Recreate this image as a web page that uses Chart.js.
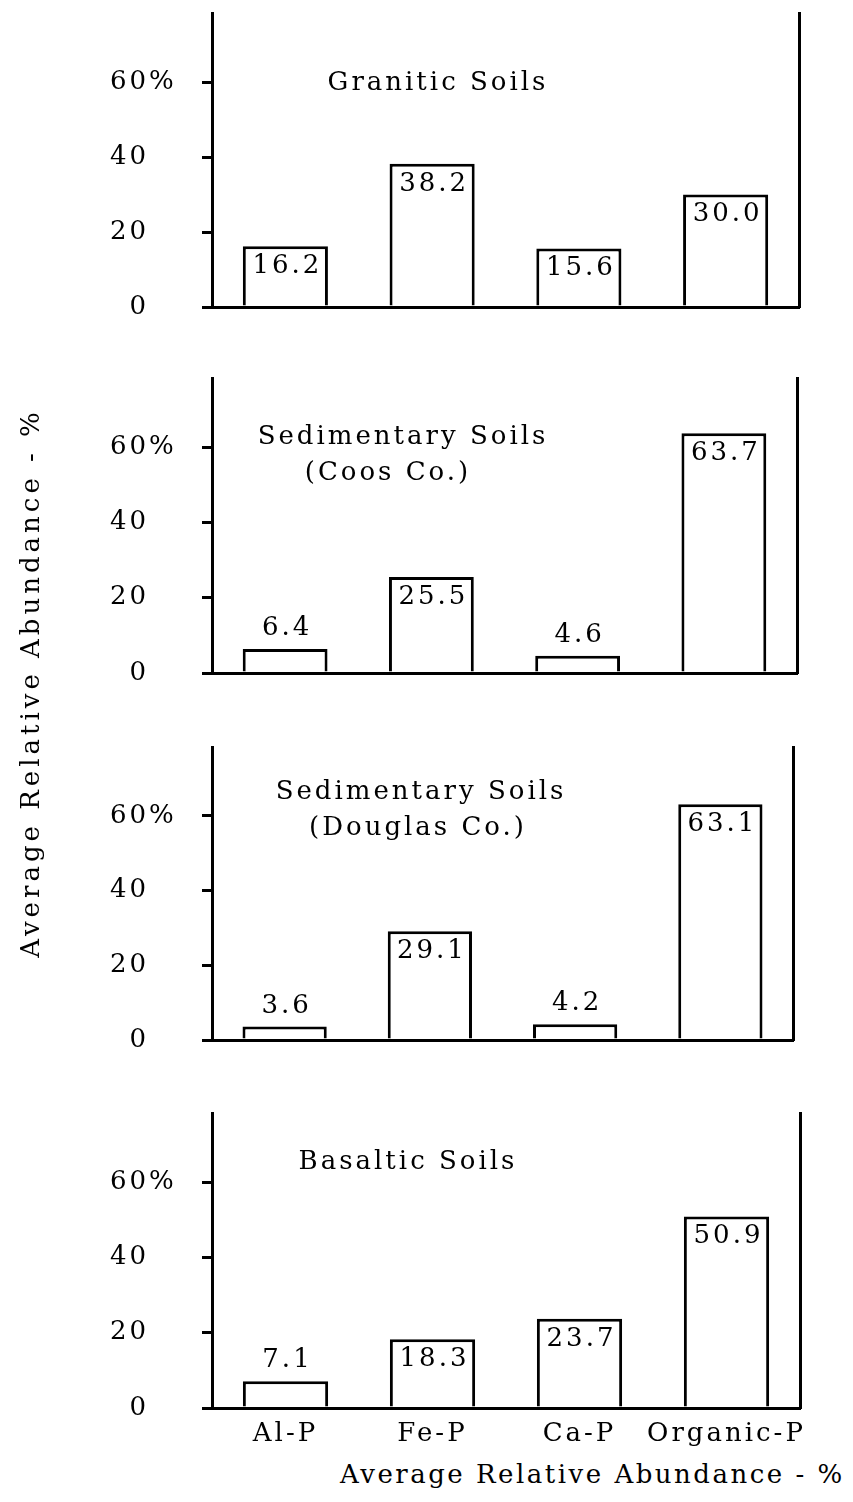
<!DOCTYPE html>
<html>
<head>
<meta charset="utf-8">
<script src="https://cdn.jsdelivr.net/npm/chart.js@4.4.1/dist/chart.umd.min.js"></script>
<style>
  body { margin: 0; background: #fff; }
  #wrap { position: relative; width: 853px; height: 1502px; background: #fff; overflow: hidden; }
  #wrap canvas { position: absolute; left: 0; }
  .axis-title { position: absolute; font-family: "DejaVu Serif", serif; font-size: 26px; color: #000; white-space: nowrap; }
  #ytitle { width: 620px; text-align: center; letter-spacing: 4px; left: -280px; top: 668px; transform: rotate(-90deg); }
  #xtitle { left: 340px; top: 1459px; letter-spacing: 2.5px; }
</style>
</head>
<body>
<div id="wrap">
  <canvas id="c0"></canvas>
  <canvas id="c1"></canvas>
  <canvas id="c2"></canvas>
  <canvas id="c3"></canvas>
  <div id="ytitle" class="axis-title">Average Relative Abundance - %</div>
  <div id="xtitle" class="axis-title">Average Relative Abundance - %</div>
</div>
<script>
// data
const categories = ['Al-P', 'Fe-P', 'Ca-P', 'Organic-P'];
const granitic = [16.2, 38.2, 15.6, 30.0];
const coosCo = [6.4, 25.5, 4.6, 63.7];
const douglasCo = [3.6, 29.1, 4.2, 63.1];
const basaltic = [7.1, 18.3, 23.7, 50.9];
const yTicks = [0, 20, 40, 60];
const panelTitles = [
    ['Granitic Soils'],
    ['Sedimentary Soils', '(Coos Co.)'],
    ['Sedimentary Soils', '(Douglas Co.)'],
    ['Basaltic Soils']
];
const panelData = [granitic, coosCo, douglasCo, basaltic];

// layout (page pixels)
const panelTop = [13, 378, 747, 1113];
const panelZero = [307, 673, 1040, 1408];
const panelRight = [799, 797, 793, 800];
const titleXY = [
    [[438, 83]],
    [[403, 437], [388, 473]],
    [[421, 792], [418, 828]],
    [[408, 1162]]
];
const leftX = 212;
const padTop = 8;
const FONT = '"DejaVu Serif", serif';
const FSIZE = 26;

const noPad = s => { s.paddingTop = 0; s.paddingBottom = 0; s.paddingLeft = 0; s.paddingRight = 0; };

const spacing = {
    id: 'spacing',
    beforeDraw(chart) {
        chart.ctx.letterSpacing = '3px';
    }
};

const valueLabels = {
    id: 'valueLabels',
    afterDatasetsDraw(chart) {
        const ctx = chart.ctx;
        const vals = chart.data.datasets[0].data;
        ctx.save();
        ctx.font = FSIZE + 'px ' + FONT;
        ctx.letterSpacing = '3px';
        ctx.fillStyle = '#000';
        ctx.textAlign = 'center';
        chart.getDatasetMeta(0).data.forEach((bar, i) => {
            const txt = vals[i].toFixed(1);
            if (vals[i] < 10) {
                ctx.textBaseline = 'alphabetic';
                ctx.fillText(txt, bar.x + 2, bar.y - 14);
            } else {
                ctx.textBaseline = 'top';
                ctx.fillText(txt, bar.x + 2, bar.y + 7);
            }
        });
        ctx.restore();
    }
};

const panelText = {
    id: 'panelText',
    afterDraw(chart, args, opts) {
        const ctx = chart.ctx;
        ctx.save();
        ctx.font = FSIZE + 'px ' + FONT;
        ctx.letterSpacing = '3px';
        ctx.fillStyle = '#000';
        ctx.textAlign = 'center';
        ctx.textBaseline = 'middle';
        opts.lines.forEach((line, i) => {
            ctx.fillText(line, opts.pos[i][0], opts.pos[i][1] - opts.offset);
        });
        // the % after the 60 tick
        const y = chart.scales.y;
        ctx.textAlign = 'left';
        ctx.letterSpacing = '0px';
        ctx.fillText('%', y.right - 10 - 53, y.getPixelForValue(60));
        ctx.restore();
    }
};

panelData.forEach((vals, p) => {
    const canvas = document.getElementById('c' + p);
    const isLast = p === panelData.length - 1;
    const xh = isLast ? 50 : 30;
    const top = panelTop[p] - padTop;
    canvas.width = 853;
    canvas.height = padTop + (panelZero[p] - panelTop[p]) + xh;
    canvas.style.top = top + 'px';

    new Chart(canvas.getContext('2d'), {
        type: 'bar',
        data: {
            labels: categories,
            datasets: [{
                data: vals,
                backgroundColor: '#fff',
                borderColor: '#000',
                borderWidth: 3,
                barPercentage: 0.58,
                categoryPercentage: 1
            }]
        },
        options: {
            responsive: false,
            animation: false,
            devicePixelRatio: 1,
            layout: { padding: { top: padTop, left: 0, right: 0, bottom: 0 } },
            plugins: {
                legend: { display: false },
                tooltip: { enabled: false },
                panelText: { lines: panelTitles[p], pos: titleXY[p], offset: top }
            },
            scales: {
                x: {
                    type: 'category',
                    grid: { display: false, drawTicks: false },
                    border: { display: true, width: 3, color: '#000' },
                    ticks: { display: isLast, color: '#000', font: { family: FONT, size: FSIZE }, padding: 11, maxRotation: 0 },
                    afterFit: s => { noPad(s); s.height = xh; }
                },
                y: {
                    position: 'left',
                    min: 0,
                    max: 78.4,
                    afterBuildTicks: s => { s.ticks = yTicks.map(v => ({ value: v })); },
                    grid: { drawOnChartArea: false, drawTicks: true, tickLength: 10, tickWidth: 3, tickColor: '#000', lineWidth: 3 },
                    border: { display: true, width: 3, color: '#000' },
                    ticks: { color: '#000', font: { family: FONT, size: FSIZE }, padding: 53, callback: v => String(v) },
                    afterFit: s => { noPad(s); s.width = leftX; }
                },
                yRight: {
                    position: 'right',
                    min: 0,
                    max: 78.4,
                    grid: { display: false, drawTicks: false },
                    border: { display: true, width: 3, color: '#000' },
                    ticks: { display: false },
                    afterFit: s => { noPad(s); s.width = 853 - panelRight[p]; }
                }
            }
        },
        plugins: [spacing, valueLabels, panelText]
    });
});
</script>
</body>
</html>
